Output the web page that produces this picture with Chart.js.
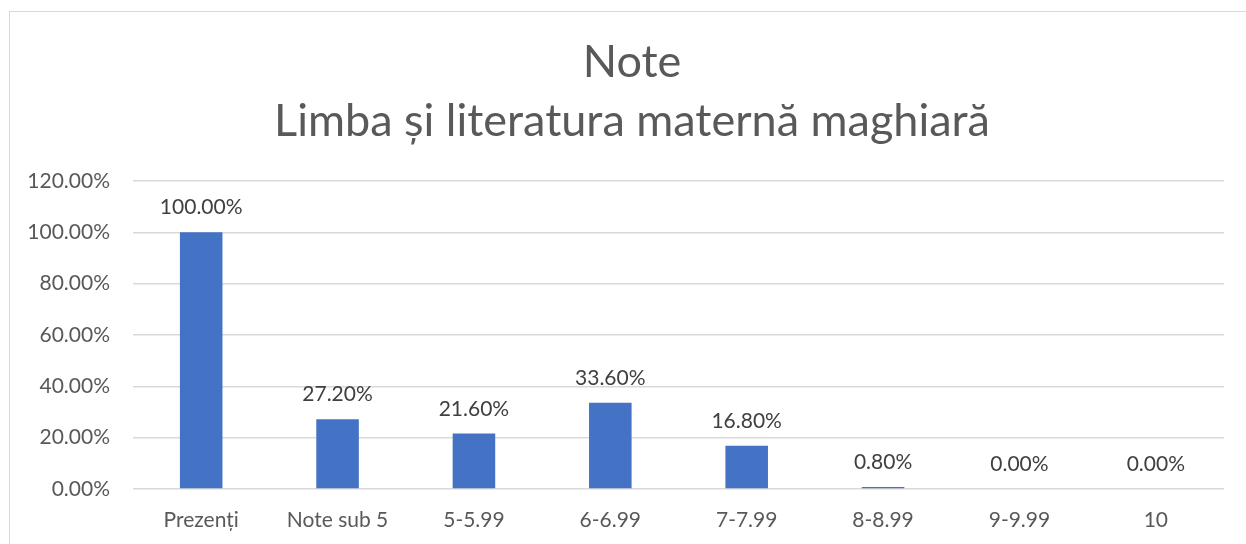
<!DOCTYPE html>
<html>
<head>
<meta charset="utf-8">
<script src="https://cdn.jsdelivr.net/npm/chart.js@4/dist/chart.umd.min.js"></script>
<style>
  html, body { margin: 0; padding: 0; background: #fff; }
  #wrap { position: relative; width: 1246px; height: 544px; overflow: hidden; }
  #frame { position: absolute; left: 9px; top: 11px; width: 1300px; height: 600px; border: 1px solid #d9d9d9; box-sizing: border-box; }
  canvas { position: absolute; left: 0; top: 0; }
</style>
</head>
<body>
<div id="wrap">
  <div id="frame"></div>
  <canvas id="c" width="1246" height="544"></canvas>
</div>
<script>
const titleLines = ["Note", "Limba și literatura maternă maghiară"];
const categories = ["Prezenți", "Note sub 5", "5-5.99", "6-6.99", "7-7.99", "8-8.99", "9-9.99", "10"];
const values = [100.00, 27.20, 21.60, 33.60, 16.80, 0.80, 0.00, 0.00];
const yTicks = [0, 20, 40, 60, 80, 100, 120];

const FONT = "Lato, 'Open Sans', sans-serif";

const dataLabels = {
  id: 'dataLabels',
  afterDatasetsDraw(chart) {
    const ctx = chart.ctx;
    const meta = chart.getDatasetMeta(0);
    ctx.save();
    ctx.font = "21px " + FONT;
    ctx.fillStyle = "#404040";
    ctx.textAlign = "center";
    ctx.textBaseline = "alphabetic";
    meta.data.forEach((bar, i) => {
      ctx.fillText(values[i].toFixed(2) + "%", bar.x, bar.y - 18);
    });
    ctx.restore();
  }
};

// shift the title box so it is centred over the framed chart, not the canvas
const titleShift = {
  id: 'titleShift',
  afterLayout(chart) {
    if (chart.titleBlock) chart.titleBlock.left = 40;
  }
};

new Chart(document.getElementById('c'), {
  type: 'bar',
  data: {
    labels: categories,
    datasets: [{
      data: values,
      backgroundColor: '#4472C4',
      borderWidth: 0,
      barPercentage: 0.312,
      categoryPercentage: 1.0
    }]
  },
  options: {
    responsive: false,
    animation: false,
    devicePixelRatio: 1,
    layout: { padding: { left: 0, right: 22, top: 0, bottom: 0 } },
    plugins: {
      legend: { display: false },
      tooltip: { enabled: false },
      title: {
        display: true,
        text: titleLines,
        color: '#595959',
        font: { family: FONT, size: 45, weight: 'normal', lineHeight: 1.31 },
        padding: { top: 33, bottom: 30 }
      }
    },
    scales: {
      x: {
        grid: { display: false, drawTicks: false },
        border: { display: false },
        ticks: { color: '#595959', font: { family: FONT, size: 21 }, padding: 19, maxRotation: 0, autoSkip: false },
        afterFit(scale) { scale.height = 55; }
      },
      y: {
        min: 0, max: 120,
        afterBuildTicks(scale) { scale.ticks = yTicks.map(v => ({ value: v })); },
        grid: { color: '#d9d9d9', lineWidth: 1.5, drawTicks: false },
        border: { display: false },
        ticks: {
          color: '#595959',
          font: { family: FONT, size: 21 },
          padding: 23,
          callback: v => Number(v).toFixed(2) + '%'
        },
        afterFit(scale) { scale.width = 133; }
      }
    }
  },
  plugins: [dataLabels, titleShift]
});
</script>
</body>
</html>
